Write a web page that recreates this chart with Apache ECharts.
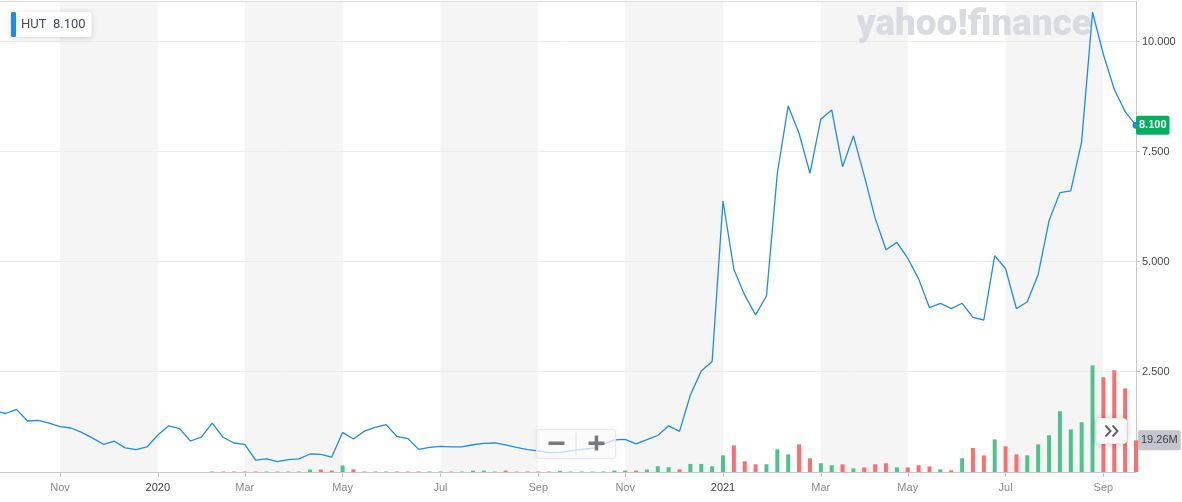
<!DOCTYPE html>
<html>
<head>
<meta charset="utf-8">
<script src="https://cdn.jsdelivr.net/npm/echarts@6/dist/echarts.min.js"></script>
<style>html,body{margin:0;padding:0;background:#fff}#c{width:1182px;height:502px}</style>
</head>
<body>
<div id="c"></div>
<script>
const categories = [
'2019-09-23','2019-09-30','2019-10-07','2019-10-14','2019-10-21','2019-10-28','2019-11-04','2019-11-11','2019-11-18','2019-11-25',
'2019-12-02','2019-12-09','2019-12-16','2019-12-23','2019-12-30','2020-01-06','2020-01-13','2020-01-20','2020-01-27','2020-02-03',
'2020-02-10','2020-02-17','2020-02-24','2020-03-02','2020-03-09','2020-03-16','2020-03-23','2020-03-30','2020-04-06','2020-04-13',
'2020-04-20','2020-04-27','2020-05-04','2020-05-11','2020-05-18','2020-05-25','2020-06-01','2020-06-08','2020-06-15','2020-06-22',
'2020-06-29','2020-07-06','2020-07-13','2020-07-20','2020-07-27','2020-08-03','2020-08-10','2020-08-17','2020-08-24','2020-08-31',
'2020-09-07','2020-09-14','2020-09-21','2020-09-28','2020-10-05','2020-10-12','2020-10-19','2020-10-26','2020-11-02','2020-11-09',
'2020-11-16','2020-11-23','2020-11-30','2020-12-07','2020-12-14','2020-12-21','2020-12-28','2021-01-04','2021-01-11','2021-01-18',
'2021-01-25','2021-02-01','2021-02-08','2021-02-15','2021-02-22','2021-03-01','2021-03-08','2021-03-15','2021-03-22','2021-03-29',
'2021-04-05','2021-04-12','2021-04-19','2021-04-26','2021-05-03','2021-05-10','2021-05-17','2021-05-24','2021-05-31','2021-06-07',
'2021-06-14','2021-06-21','2021-06-28','2021-07-05','2021-07-12','2021-07-19','2021-07-26','2021-08-02','2021-08-09','2021-08-16',
'2021-08-23','2021-08-30','2021-09-06','2021-09-13','2021-09-20','2021-09-27'
];
const prices = [
1.61,1.55,1.645,1.38,1.395,1.33,1.25,1.22,1.12,0.99,
0.85,0.92,0.77,0.73,0.79,1.06,1.27,1.205,0.925,1.015,
1.33,1.01,0.88,0.85,0.49,0.52,0.455,0.50,0.52,0.63,
0.62,0.56,1.12,0.97,1.15,1.235,1.295,1.03,0.98,0.735,
0.78,0.805,0.79,0.79,0.84,0.87,0.88,0.835,0.78,0.73,
0.70,0.66,0.665,0.70,0.735,0.76,0.85,0.95,0.96,0.86,
0.955,1.05,1.27,1.145,1.97,2.515,2.73,6.38,4.83,4.24,
3.79,4.22,7.01,8.54,7.92,7.01,8.24,8.45,7.16,7.86,
6.95,5.99,5.27,5.44,5.08,4.61,3.955,4.055,3.935,4.055,
3.735,3.675,5.14,4.84,3.93,4.09,4.71,5.93,6.57,6.61,
7.73,10.67,9.71,8.92,8.41,8.10
];
// weekly volume, millions
const volumes = [
0,0,0,0,0,0,0,0,0,0,
0,0,0,0,0,0,0,0,0,0,
0.3,0.3,0.3,0.3,0.3,0.3,0.3,0.3,0.3,1.5,
1.5,0.85,4.0,1.6,0.3,0.3,0.3,0.3,0.3,0.3,
0.3,0.3,0.3,0.3,0.85,0.85,0.3,0.85,0.3,0.3,
0.3,0.3,0.7,0.3,0.3,0.3,0.3,0.85,0.85,0.85,
1.5,3.5,2.9,1.6,4.9,4.9,3.5,10.1,16.2,6.5,
4.7,4.7,13.8,10.7,16.8,8.3,5.3,4.1,4.7,2.2,
2.8,4.7,5.3,2.8,2.8,4.1,3.4,1.6,1.0,8.3,
14.6,10.1,19.8,15.6,10.7,10.1,16.8,22.3,36.9,25.9,
30.2,64.8,57.5,61.8,50.8,19.26
];
const tickIndex = [6,15,23,32,41,50,58,67,76,84,93,102];
const tickLabels = ['Nov','2020','Mar','May','Jul','Sep','Nov','2021','Mar','May','Jul','Sep'];
const symbol = 'HUT';

const last = prices.length - 1;
const UP = '#4cc48b', DOWN = '#ff6e6e', LINE = '#1a8cf5';
const isTick = (i) => tickIndex.indexOf(i) >= 0;
const FONT = '"Liberation Sans", Arial, sans-serif';
const HIDDEN_LINE = { color: 'rgba(0,0,0,0)', width: 0 };

const volData = volumes.map((v, i) => ({
  value: v,
  itemStyle: { color: (i === 0 || prices[i] >= prices[i - 1]) ? UP : DOWN }
}));

const chart = echarts.init(document.getElementById('c'), null, {renderer: 'canvas'});
chart.setOption({
  animation: false,
  backgroundColor: '#ffffff',
  textStyle: { fontFamily: FONT },
  title: {
    text: 'yahoo!finance', right: 85, top: 2, z: 1,
    textStyle: { fontFamily: 'Roboto, "Open Sans", sans-serif', fontWeight: 900, fontSize: 37, color: '#d9dbe0' }
  },
  legend: {
    data: [symbol], left: 11, top: 12, z: 10,
    icon: 'roundRect', itemWidth: 5, itemHeight: 25,
    backgroundColor: '#ffffff', borderRadius: 3,
    shadowBlur: 6, shadowColor: 'rgba(0,0,0,0.16)', shadowOffsetY: 1,
    padding: [0, 6, 0, 0],
    formatter: (n) => n + '  ' + prices[last].toFixed(3),
    textStyle: { fontFamily: 'Roboto, sans-serif', fontSize: 13, color: '#464e56' }
  },
  grid: [
    { left: -5.2, right: 46, top: 41.7, bottom: 130.3, outerBoundsMode: 'none', containLabel: false },
    { left: -5.2, right: 46, top: 1.5, bottom: 30, outerBoundsMode: 'none', containLabel: false }
  ],
  xAxis: [
    { gridIndex: 0, type: 'category', data: categories, boundaryGap: false, show: false },
    {
      gridIndex: 1, type: 'category', data: categories, boundaryGap: false,
      axisLine: { lineStyle: { color: '#c9c9c9', width: 1 } },
      axisTick: { interval: isTick, length: 5, lineStyle: { color: '#c9c9c9' } },
      axisLabel: {
        interval: isTick, margin: 10,
        formatter: (v, i) => {
          const k = tickIndex.indexOf(i);
          const t = k >= 0 ? tickLabels[k] : '';
          return /^\d{4}$/.test(t) ? '{y|' + t + '}' : '{m|' + t + '}';
        },
        rich: {
          m: { fontSize: 11, color: '#8c8c8c', fontFamily: FONT },
          y: { fontSize: 11, color: '#444444', fontFamily: FONT }
        }
      },
      splitLine: { show: false },
      splitArea: { show: true, interval: isTick, areaStyle: { color: ['#f5f5f5', 'rgba(255,255,255,0)'] } }
    },
    {
      gridIndex: 1, type: 'category', data: categories, boundaryGap: false, position: 'top',
      axisLine: { show: true, lineStyle: { color: '#dddddd' } },
      axisTick: { show: false }, axisLabel: { show: false }, splitLine: { show: false }
    }
  ],
  yAxis: [
    {
      gridIndex: 0, type: 'value', position: 'right', min: 2.5, max: 10, interval: 2.5, z: 1,
      axisLine: { show: false },
      axisTick: { show: true, length: 4, lineStyle: { color: '#c9c9c9' } },
      axisLabel: { formatter: (v) => v.toFixed(3), margin: 6, fontSize: 11, color: '#4a4a4a' },
      splitLine: { lineStyle: { color: '#ececec' } }
    },
    {
      gridIndex: 1, type: 'value', position: 'right', min: 0, max: 285.9,
      axisLine: { show: true, lineStyle: { color: '#c9c9c9' } },
      axisTick: { show: false }, axisLabel: { show: false }, splitLine: { show: false }
    }
  ],
  series: [
    {
      name: 'Volume', type: 'bar', xAxisIndex: 1, yAxisIndex: 1,
      barWidth: 4, data: volData, z: 2,
      markLine: {
        silent: true, symbol: 'none', lineStyle: HIDDEN_LINE, z: 5,
        data: [{ yAxis: volumes[last] }],
        label: {
          show: true, position: 'end', distance: 2,
          formatter: () => volumes[last].toFixed(2) + 'M',
          backgroundColor: '#c3c6cd', color: '#3c3c3c', fontSize: 11,
          padding: [5, 3, 4, 3], borderRadius: 2
        }
      }
    },
    {
      name: symbol, type: 'line', xAxisIndex: 0, yAxisIndex: 0,
      data: prices, showSymbol: false, clip: false, z: 3,
      lineStyle: { color: LINE, width: 1.3 }, itemStyle: { color: LINE },
      markPoint: {
        silent: true, symbol: 'circle', symbolSize: 7,
        itemStyle: { color: LINE }, label: { show: false },
        data: [{ coord: [categories[last], prices[last]] }]
      },
      markLine: {
        silent: true, symbol: 'none', lineStyle: HIDDEN_LINE, z: 5,
        data: [{ yAxis: prices[last] }],
        label: {
          show: true, position: 'end', distance: 0,
          formatter: () => prices[last].toFixed(3),
          backgroundColor: '#00b05e', color: '#ffffff', fontSize: 11, fontWeight: 'bold',
          padding: [4, 3, 4, 3], borderRadius: 2
        }
      }
    }
  ],
  graphic: [
    {
      type: 'group', left: 536, top: 429, z: 100,
      children: [
        { type: 'rect', z: 100, shape: { x: 0, y: 0, width: 79, height: 29, r: 3 },
          style: { fill: 'rgba(255,255,255,0.72)', stroke: '#e8e8e8', lineWidth: 1, shadowBlur: 4, shadowColor: 'rgba(0,0,0,0.08)' } },
        { type: 'line', z: 101, shape: { x1: 39.5, y1: 3, x2: 39.5, y2: 26 }, style: { stroke: '#dedede', lineWidth: 1 } },
        { type: 'rect', z: 101, shape: { x: 12, y: 12, width: 16, height: 3.5 }, style: { fill: '#7a7a7a' } },
        { type: 'rect', z: 101, shape: { x: 52, y: 12, width: 16, height: 3.5 }, style: { fill: '#7a7a7a' } },
        { type: 'rect', z: 101, shape: { x: 58.2, y: 6, width: 3.5, height: 15 }, style: { fill: '#7a7a7a' } }
      ]
    },
    {
      type: 'group', left: 1096, top: 418, z: 100,
      children: [
        { type: 'rect', z: 100, shape: { x: 0, y: 0, width: 30, height: 25, r: 3 },
          style: { fill: '#ffffff', stroke: '#eeeeee', lineWidth: 1, shadowBlur: 6, shadowColor: 'rgba(0,0,0,0.2)' } },
        { type: 'polyline', z: 101, shape: { points: [[9, 7], [14, 12.5], [9, 18]] }, style: { stroke: '#666', lineWidth: 2, fill: null } },
        { type: 'polyline', z: 101, shape: { points: [[16, 7], [21, 12.5], [16, 18]] }, style: { stroke: '#666', lineWidth: 2, fill: null } }
      ]
    }
  ]
});
</script>
</body>
</html>
